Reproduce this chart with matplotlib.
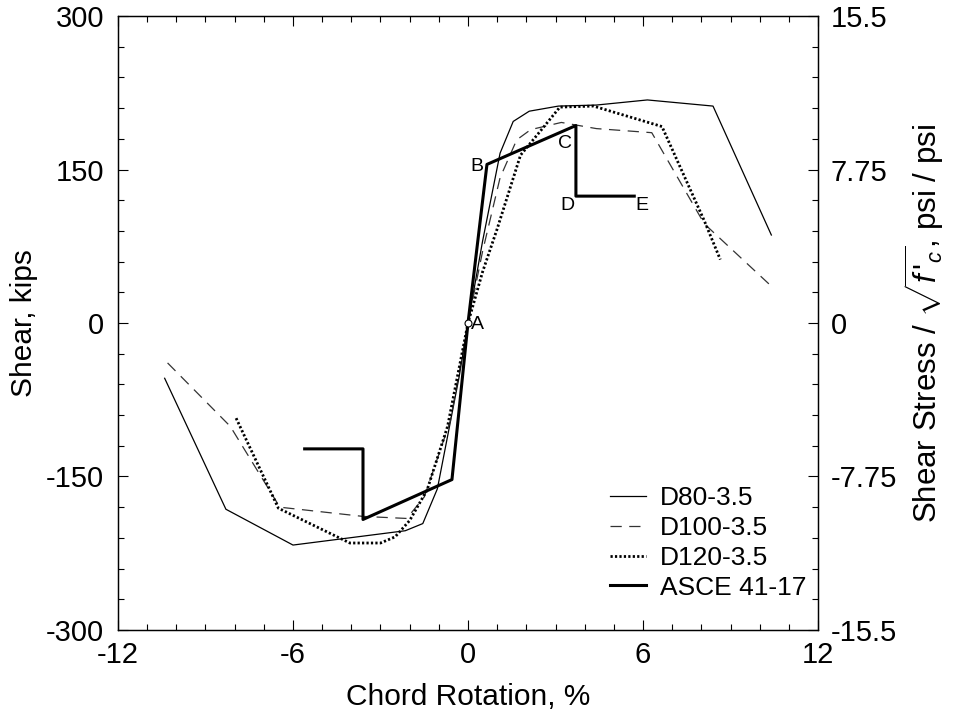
import matplotlib
matplotlib.use("Agg")
import matplotlib.pyplot as plt
from matplotlib.ticker import MultipleLocator, FixedLocator

plt.rcParams['font.family'] = ['Liberation Sans', 'DejaVu Sans']
plt.rcParams['mathtext.fontset'] = 'custom'
plt.rcParams['mathtext.rm'] = 'Liberation Sans'
plt.rcParams['mathtext.it'] = 'Liberation Sans:italic'

# Data (chord rotation %, shear kips)
d80_x = [-10.4, -8.3, -6.0, -2.15, -1.55, -1.05, -0.3, 0.0, 0.5, 1.1, 1.55, 2.1, 3.1, 4.4, 6.15, 8.4, 10.4]
d80_y = [-54, -182, -217, -203, -196, -162, -52, 0, 80, 166, 197, 207, 212, 213, 218, 212, 86]

d100_x = [-10.3, -8.15, -6.45, -3.6, -2.1, -1.5, -0.6, 0.0, 0.5, 1.1, 1.67, 2.15, 3.2, 4.4, 6.3, 8.1, 10.4]
d100_y = [-39, -101, -180, -189, -191, -170, -95, 0, 70, 142, 179, 189, 196, 190, 186, 97, 36]

d120_x = [-7.95, -6.5, -4.05, -3.0, -2.5, -2.0, -1.4, -0.7, 0.0, 0.5, 1.0, 1.8, 2.55, 3.15, 4.3, 6.65, 8.1, 8.65]
d120_y = [-93, -181, -215, -215, -209, -193, -163, -101, 0, 50, 92, 164, 190, 211, 212, 192, 100, 62]

asce_x = [-5.6, -3.6, -3.6, -0.55, 0.0, 0.65, 3.7, 3.7, 5.7]
asce_y = [-123, -123, -192, -153, 0, 155, 193, 124, 124]

pt_labels = ['A', 'B', 'C', 'D', 'E']
pt_x = [0.0, 0.65, 3.7, 3.7, 5.7]
pt_y = [0, 155, 193, 124, 124]

x_ticks = [-12, -6, 0, 6, 12]
y_ticks = [-300, -150, 0, 150, 300]
y2_ticks = [-15.5, -7.75, 0, 7.75, 15.5]
y2_labels = ['-15.5', '-7.75', '0', '7.75', '15.5']

fig = plt.figure(figsize=(9.6, 7.19), dpi=100)
ax = fig.add_axes([0.1229, 0.1238, 0.7292, 0.8539])

ax.plot(d80_x, d80_y, color='black', lw=0.9, label='D80-3.5')
ax.plot(d100_x, d100_y, color='#333333', lw=0.9, linestyle=(0, (9, 6)), label='D100-3.5')
ax.plot(d120_x, d120_y, color='black', lw=2.0, linestyle=(0, (0.8, 0.8)), label='D120-3.5')
ax.plot(asce_x, asce_y, color='black', lw=2.2, label='ASCE 41-17')

ax.plot([0], [0], marker='o', markersize=5, markerfacecolor='white', markeredgecolor='black', markeredgewidth=0.8, linestyle='none')

fs_pt = 14
ax.text(pt_x[0] + 0.1, pt_y[0] - 1, pt_labels[0], fontsize=fs_pt, ha='left', va='center')
ax.text(pt_x[1] - 0.12, pt_y[1] - 2, pt_labels[1], fontsize=fs_pt, ha='right', va='center')
ax.text(pt_x[2] - 0.12, pt_y[2] - 18, pt_labels[2], fontsize=fs_pt, ha='right', va='center')
ax.text(pt_x[3] - 0.05, pt_y[3] - 9, pt_labels[3], fontsize=fs_pt, ha='right', va='center')
ax.text(pt_x[4] + 0.05, pt_y[4] - 9, pt_labels[4], fontsize=fs_pt, ha='left', va='center')

ax.set_xlim(-12, 12)
ax.set_ylim(-300, 300)
ax.xaxis.set_major_locator(FixedLocator(x_ticks))
ax.xaxis.set_minor_locator(MultipleLocator(1))
ax.yaxis.set_major_locator(FixedLocator(y_ticks))
ax.yaxis.set_minor_locator(MultipleLocator(30))
ax.set_xticklabels([str(v) for v in x_ticks])
ax.set_yticklabels([str(v) for v in y_ticks])
ax.tick_params(which='both', direction='in', top=True, right=False, labelsize=21)
ax.tick_params(which='major', length=7, width=0.8)
ax.tick_params(which='minor', length=4, width=0.8)
ax.tick_params(axis='x', which='major', pad=8)
ax.tick_params(axis='y', which='major', pad=10)
ax.set_xlabel('Chord Rotation, %', fontsize=21.5, labelpad=10)
ax.set_ylabel('Shear, kips', fontsize=21.5, labelpad=6)

ax2 = ax.twinx()
ax2.set_ylim(-15.5, 15.5)
ax2.yaxis.set_major_locator(FixedLocator(y2_ticks))
ax2.set_yticklabels(y2_labels)
ax2.yaxis.set_minor_locator(MultipleLocator(1.55))
ax2.tick_params(which='both', direction='in', labelsize=21)
ax2.tick_params(which='major', length=7, width=0.8, pad=9)
ax2.tick_params(which='minor', length=4, width=0.8)
ax2.set_ylabel(r"Shear Stress / $\sqrt{f\,'_{c}}$, psi / psi", fontsize=22.5, labelpad=4)

for a in (ax, ax2):
    for s in a.spines.values():
        s.set_linewidth(0.9)

leg = ax.legend(loc='lower right', bbox_to_anchor=(1.014, 0.015), frameon=False, fontsize=19,
                handlelength=1.35, handletextpad=0.55, labelspacing=0.22, borderaxespad=0.4)

fig.savefig('out.png', dpi=100)
